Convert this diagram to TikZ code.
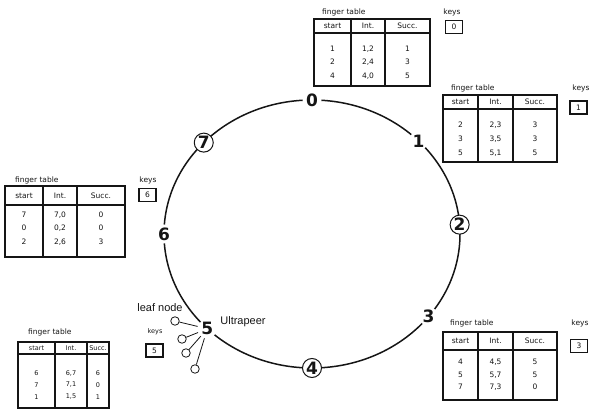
\documentclass[tikz,border=0pt]{standalone}
\usepackage{fontspec}
\setmainfont{DejaVu Sans}
\newfontfamily\labelfont{Liberation Sans}
\usetikzlibrary{calc}
\definecolor{ink}{HTML}{151515}

\begin{document}
\begin{tikzpicture}[x=1pt,y=-1pt,color=ink,
  peer/.style={circle,fill=white,inner sep=0pt,minimum size=19pt,line width=1pt,font=\bfseries\fontsize{17}{17}\selectfont},
  leaf/.style={circle,draw,fill=white,line width=0.8pt,inner sep=0pt,minimum size=8.5pt},
  tab/.style={line width=1.1pt},
  tcell/.style={inner sep=0pt,font=\fontsize{7.5}{8}\selectfont},
  tabcap/.style={inner sep=0pt,anchor=west,font=\fontsize{7.5}{8}\selectfont},
  keybox/.style={draw,line width=1.1pt,minimum width=17pt,minimum height=13pt,inner sep=0pt,font=\fontsize{7.5}{8}\selectfont},
  tag/.style={inner sep=0pt,font=\labelfont\fontsize{11}{12}\selectfont}]
\useasboundingbox (0,0) rectangle (589,411);
% ring of peers
\coordinate (ctr) at (312,234);
\draw[line width=1.5pt] (ctr) ellipse [x radius=148,y radius=134];
\foreach \k/\a/\dr in {0/-90/none,1/-44/none,2/-4/ink,3/38/none,4/90/ink,5/135/none,6/180/none,7/-137/ink}{\node[peer,draw=\dr] (n\k) at ($(ctr)+(\a:148 and 134)$) {\k};}
% leaves hanging off peer 5
\foreach \x/\y [count=\j] in {175/321,182/339,186/353,195/369}{\node[leaf] (l\j) at (\x,\y) {}; \draw[line width=0.8pt] (l\j) -- (n5);}
\node[tag] (leaflbl) at (160,308) {leaf node};
\node[tag] (uplbl) at (243,322) {Ultrapeer};
% finger table of 0
\begin{scope}[shift={(314,19)}]
\draw[tab] (0,0) rectangle (116,67) (0,14) -- (116,14) (37,0) -- (37,67) (71,0) -- (71,67);
\node[tabcap] (t0cap) at (8,-7) {finger table};
\foreach \x/\h [count=\j] in {18.5/start,54/Int.,93.5/Succ.}{\node[tcell] (t0h\j) at (\x,7) {\h};}
\foreach \y/\s/\iv/\u [count=\j] in {30/1/{1,2}/1,43/2/{2,4}/3,57/4/{4,0}/5}{\node[tcell] (t0s\j) at (18.5,\y) {\s}; \node[tcell] (t0i\j) at (54,\y) {\iv}; \node[tcell] (t0u\j) at (93.5,\y) {\u};}
\node[tcell] (t0kl) at (138,-7) {keys}; \node[keybox] (t0k) at (140,8) {0};
\end{scope}
% finger table of 1
\begin{scope}[shift={(443,95)}]
\draw[tab] (0,0) rectangle (114,67) (0,14) -- (114,14) (35,0) -- (35,67) (70,0) -- (70,67);
\node[tabcap] (t1cap) at (8,-7) {finger table};
\foreach \x/\h [count=\j] in {17.5/start,52.5/Int.,92/Succ.}{\node[tcell] (t1h\j) at (\x,7) {\h};}
\foreach \y/\s/\iv/\u [count=\j] in {30/2/{2,3}/3,44/3/{3,5}/3,58/5/{5,1}/5}{\node[tcell] (t1s\j) at (17.5,\y) {\s}; \node[tcell] (t1i\j) at (52.5,\y) {\iv}; \node[tcell] (t1u\j) at (92,\y) {\u};}
\node[tcell] (t1kl) at (138,-7) {keys}; \node[keybox] (t1k) at (135.5,12.5) {1};
\end{scope}
% finger table of 6
\begin{scope}[shift={(5,186)}]
\draw[tab] (0,0) rectangle (120,71) (0,19) -- (120,19) (38,0) -- (38,71) (72,0) -- (72,71);
\node[tabcap] (t6cap) at (10,-6) {finger table};
\foreach \x/\h [count=\j] in {19/start,55/Int.,96/Succ.}{\node[tcell] (t6h\j) at (\x,9.5) {\h};}
\foreach \y/\s/\iv/\u [count=\j] in {29/7/{7,0}/0,42/0/{0,2}/0,56/2/{2,6}/3}{\node[tcell] (t6s\j) at (19,\y) {\s}; \node[tcell] (t6i\j) at (55,\y) {\iv}; \node[tcell] (t6u\j) at (96,\y) {\u};}
\node[tcell] (t6kl) at (143,-6) {keys}; \node[keybox] (t6k) at (142.5,9) {6};
\end{scope}
% finger table of 5
\begin{scope}[shift={(18,342)},tcell/.append style={font=\fontsize{6.5}{7}\selectfont}]
\draw[tab] (0,0) rectangle (91,66) (0,12) -- (91,12) (37,0) -- (37,66) (69,0) -- (69,66);
\node[tabcap] (t5cap) at (10,-10) {finger table};
\foreach \x/\h [count=\j] in {18.5/start,53/Int.,80/Succ.}{\node[tcell] (t5h\j) at (\x,6) {\h};}
\foreach \y/\s/\iv/\u [count=\j] in {31/6/{6,7}/6,43/7/{7,1}/0,55/1/{1,5}/1}{\node[tcell] (t5s\j) at (18.5,\y) {\s}; \node[tcell] (t5i\j) at (53,\y) {\iv}; \node[tcell] (t5u\j) at (80,\y) {\u};}
\node[tcell] (t5kl) at (137,-10) {keys}; \node[keybox] (t5k) at (136.5,8.5) {5};
\end{scope}
% finger table of 3
\begin{scope}[shift={(443,332)}]
\draw[tab] (0,0) rectangle (114,68) (0,18) -- (114,18) (35,0) -- (35,68) (70,0) -- (70,68);
\node[tabcap] (t3cap) at (7,-9) {finger table};
\foreach \x/\h [count=\j] in {17.5/start,52.5/Int.,92/Succ.}{\node[tcell] (t3h\j) at (\x,9) {\h};}
\foreach \y/\s/\iv/\u [count=\j] in {30/4/{4,5}/5,43/5/{5,7}/5,55/7/{7,3}/0}{\node[tcell] (t3s\j) at (17.5,\y) {\s}; \node[tcell] (t3i\j) at (52.5,\y) {\iv}; \node[tcell] (t3u\j) at (92,\y) {\u};}
\node[tcell] (t3kl) at (137,-9) {keys}; \node[keybox] (t3k) at (136,14) {3};
\end{scope}
\end{tikzpicture}
\end{document}
